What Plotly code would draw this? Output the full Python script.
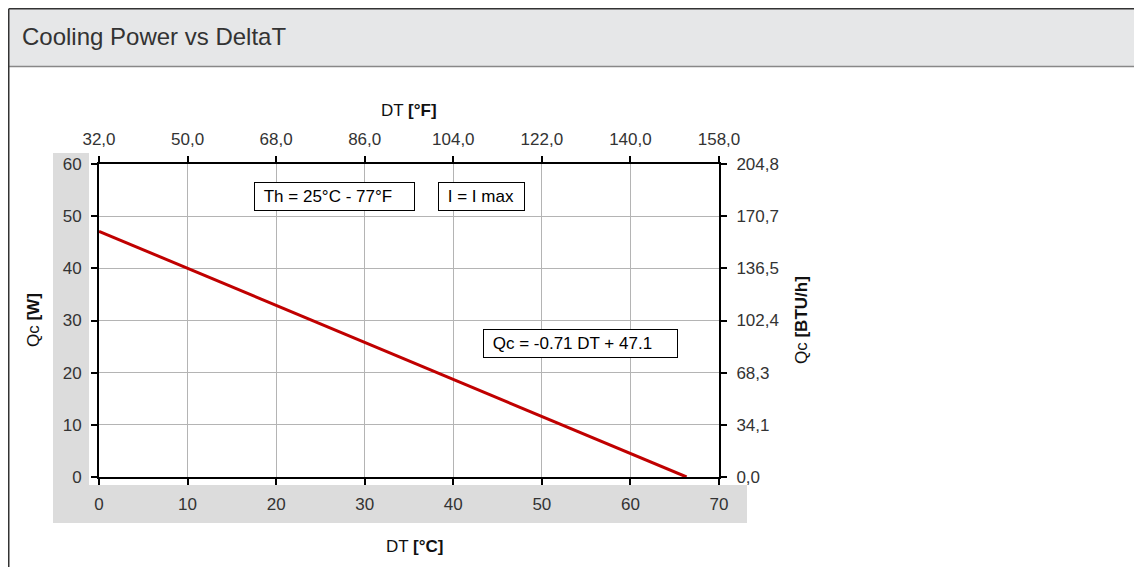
import plotly.graph_objects as go

# ---------------- data ----------------
dt_c = [0, 66.34]          # DeltaT in °C
qc_w = [47.1, 0]           # cooling power in W

x_ticks_c = [0, 10, 20, 30, 40, 50, 60, 70]
x_ticks_f = [32.0, 50.0, 68.0, 86.0, 104.0, 122.0, 140.0, 158.0]
y_ticks_w = [0, 10, 20, 30, 40, 50, 60]
y_ticks_btu = [0.0, 34.1, 68.3, 102.4, 136.5, 170.7, 204.8]

title_text = "Cooling Power vs DeltaT"
note_th = "Th = 25°C - 77°F"
note_i = "I = I max"
note_eq = "Qc = -0.71 DT + 47.1"

# ---------------- layout helpers ----------------
OFF = 8                      # page body margin
W, H = 1142 - OFF, 567 - OFF
L, R, T, B = 99, 719, 164, 477   # plot area in window pixels


def px(xp):
    return (xp - L) / (R - L)


def py(yp):
    return (B - yp) / (B - T)


FONT = "Liberation Sans, Arial, sans-serif"
TXT = "#333333"

fig = go.Figure()
fig.add_trace(go.Scatter(x=dt_c, y=qc_w, mode="lines",
                         line=dict(color="#c00000", width=3),
                         showlegend=False, hoverinfo="skip"))
# invisible trace to activate secondary axes
fig.add_trace(go.Scatter(x=[x_ticks_f[0]], y=[y_ticks_btu[0]], xaxis="x2", yaxis="y2",
                         mode="markers", marker=dict(opacity=0), showlegend=False,
                         hoverinfo="skip"))

fmt = lambda v: f"{v:.1f}".replace(".", ",")

axis_common = dict(showline=True, linecolor="black", linewidth=2,
                   ticks="outside", ticklen=6, tickwidth=2, tickcolor="black",
                   tickfont=dict(family=FONT, size=17, color=TXT), zeroline=False)

fig.update_layout(
    width=W, height=H,
    margin=dict(l=L - OFF, r=1142 - R, t=T - OFF, b=567 - B, pad=0),
    paper_bgcolor="white", plot_bgcolor="white",
    showlegend=False,
    font=dict(family=FONT, size=17, color=TXT),
    xaxis=dict(range=[0, 70], tickvals=x_ticks_c, ticktext=[str(v) for v in x_ticks_c],
               showgrid=True, gridcolor="#b4b4b4", gridwidth=1,
               ticklabelstandoff=5, **axis_common),
    yaxis=dict(range=[0, 60], tickvals=y_ticks_w, ticktext=[str(v) for v in y_ticks_w],
               showgrid=True, gridcolor="#b4b4b4", gridwidth=1,
               ticklabelstandoff=6, **axis_common),
    xaxis2=dict(range=[32, 158], overlaying="x", side="top", anchor="y",
                tickvals=x_ticks_f, ticktext=[fmt(v) for v in x_ticks_f],
                showgrid=False, ticklabelstandoff=4, **axis_common),
    yaxis2=dict(range=[0, 204.8], overlaying="y", side="right", anchor="x",
                tickvals=y_ticks_btu, ticktext=[fmt(v) for v in y_ticks_btu],
                showgrid=False, ticklabelstandoff=6, **axis_common),
)

shapes = []
# gray L-shaped backdrop behind left / bottom tick labels
shapes.append(dict(type="rect", xref="paper", yref="paper", layer="below",
                   x0=px(53), x1=px(747), y0=py(523), y1=py(153),
                   fillcolor="#dcdcdc", line=dict(width=0)))
shapes.append(dict(type="rect", xref="paper", yref="paper", layer="below",
                   x0=px(89), x1=px(747), y0=py(485), y1=py(153),
                   fillcolor="white", line=dict(width=0)))
# header band and frame (frame drawn at the figure's own edge)
EDGE = OFF + 0.75
shapes.append(dict(type="rect", xref="paper", yref="paper", layer="below",
                   x0=px(EDGE), x1=px(1150), y0=py(67), y1=py(EDGE),
                   fillcolor="#e6e7e8", line=dict(width=0)))
shapes.append(dict(type="line", xref="paper", yref="paper",
                   x0=px(EDGE), x1=px(1150), y0=py(EDGE), y1=py(EDGE),
                   line=dict(color="#333333", width=1.5)))
shapes.append(dict(type="line", xref="paper", yref="paper",
                   x0=px(EDGE), x1=px(1150), y0=py(66.5), y1=py(66.5),
                   line=dict(color="#888888", width=1.5)))
shapes.append(dict(type="line", xref="paper", yref="paper",
                   x0=px(EDGE), x1=px(EDGE), y0=py(EDGE), y1=py(580),
                   line=dict(color="#333333", width=1.5)))
fig.update_layout(shapes=shapes)

ann = []
ann.append(dict(text=title_text, xref="paper", yref="paper", x=px(20), y=py(37),
                xanchor="left", yanchor="middle", showarrow=False,
                font=dict(family=FONT, size=24, color="#333333")))
# axis titles
ann.append(dict(text="DT <b>[°F]</b>", xref="paper", yref="paper", x=px(409), y=py(110),
                xanchor="center", yanchor="middle", showarrow=False,
                font=dict(family=FONT, size=17, color="#111111")))
ann.append(dict(text="DT <b>[°C]</b>", xref="paper", yref="paper", x=px(414), y=py(546),
                xanchor="center", yanchor="middle", showarrow=False,
                font=dict(family=FONT, size=17, color="#111111")))
ann.append(dict(text="Qc <b>[W]</b>", xref="paper", yref="paper", x=px(33), y=py(320),
                xanchor="center", yanchor="middle", showarrow=False, textangle=-90,
                font=dict(family=FONT, size=17, color="#111111")))
ann.append(dict(text="Qc <b>[BTU/h]</b>", xref="paper", yref="paper", x=px(801), y=py(320),
                xanchor="center", yanchor="middle", showarrow=False, textangle=-90,
                font=dict(family=FONT, size=17, color="#111111")))


# boxed notes (positions in data coordinates)
def box_note(text, cx_px, cy_px, w_px):
    return dict(text="\u00a0" + text, xref="x", yref="y",
                x=(cx_px - L) / (R - L) * 70, y=(B - cy_px) / (B - T) * 60,
                xanchor="center", yanchor="middle", showarrow=False,
                align="left", width=w_px - 10, height=19,
                bgcolor="white", bordercolor="black", borderwidth=1, borderpad=4,
                font=dict(family=FONT, size=17, color="black"))


ann.append(box_note(note_th, 334.5, 196.5, 161))
ann.append(box_note(note_i, 481.5, 196.5, 87))
ann.append(box_note(note_eq, 580.5, 343, 195))
fig.update_layout(annotations=ann)

fig.write_html("out.html")
